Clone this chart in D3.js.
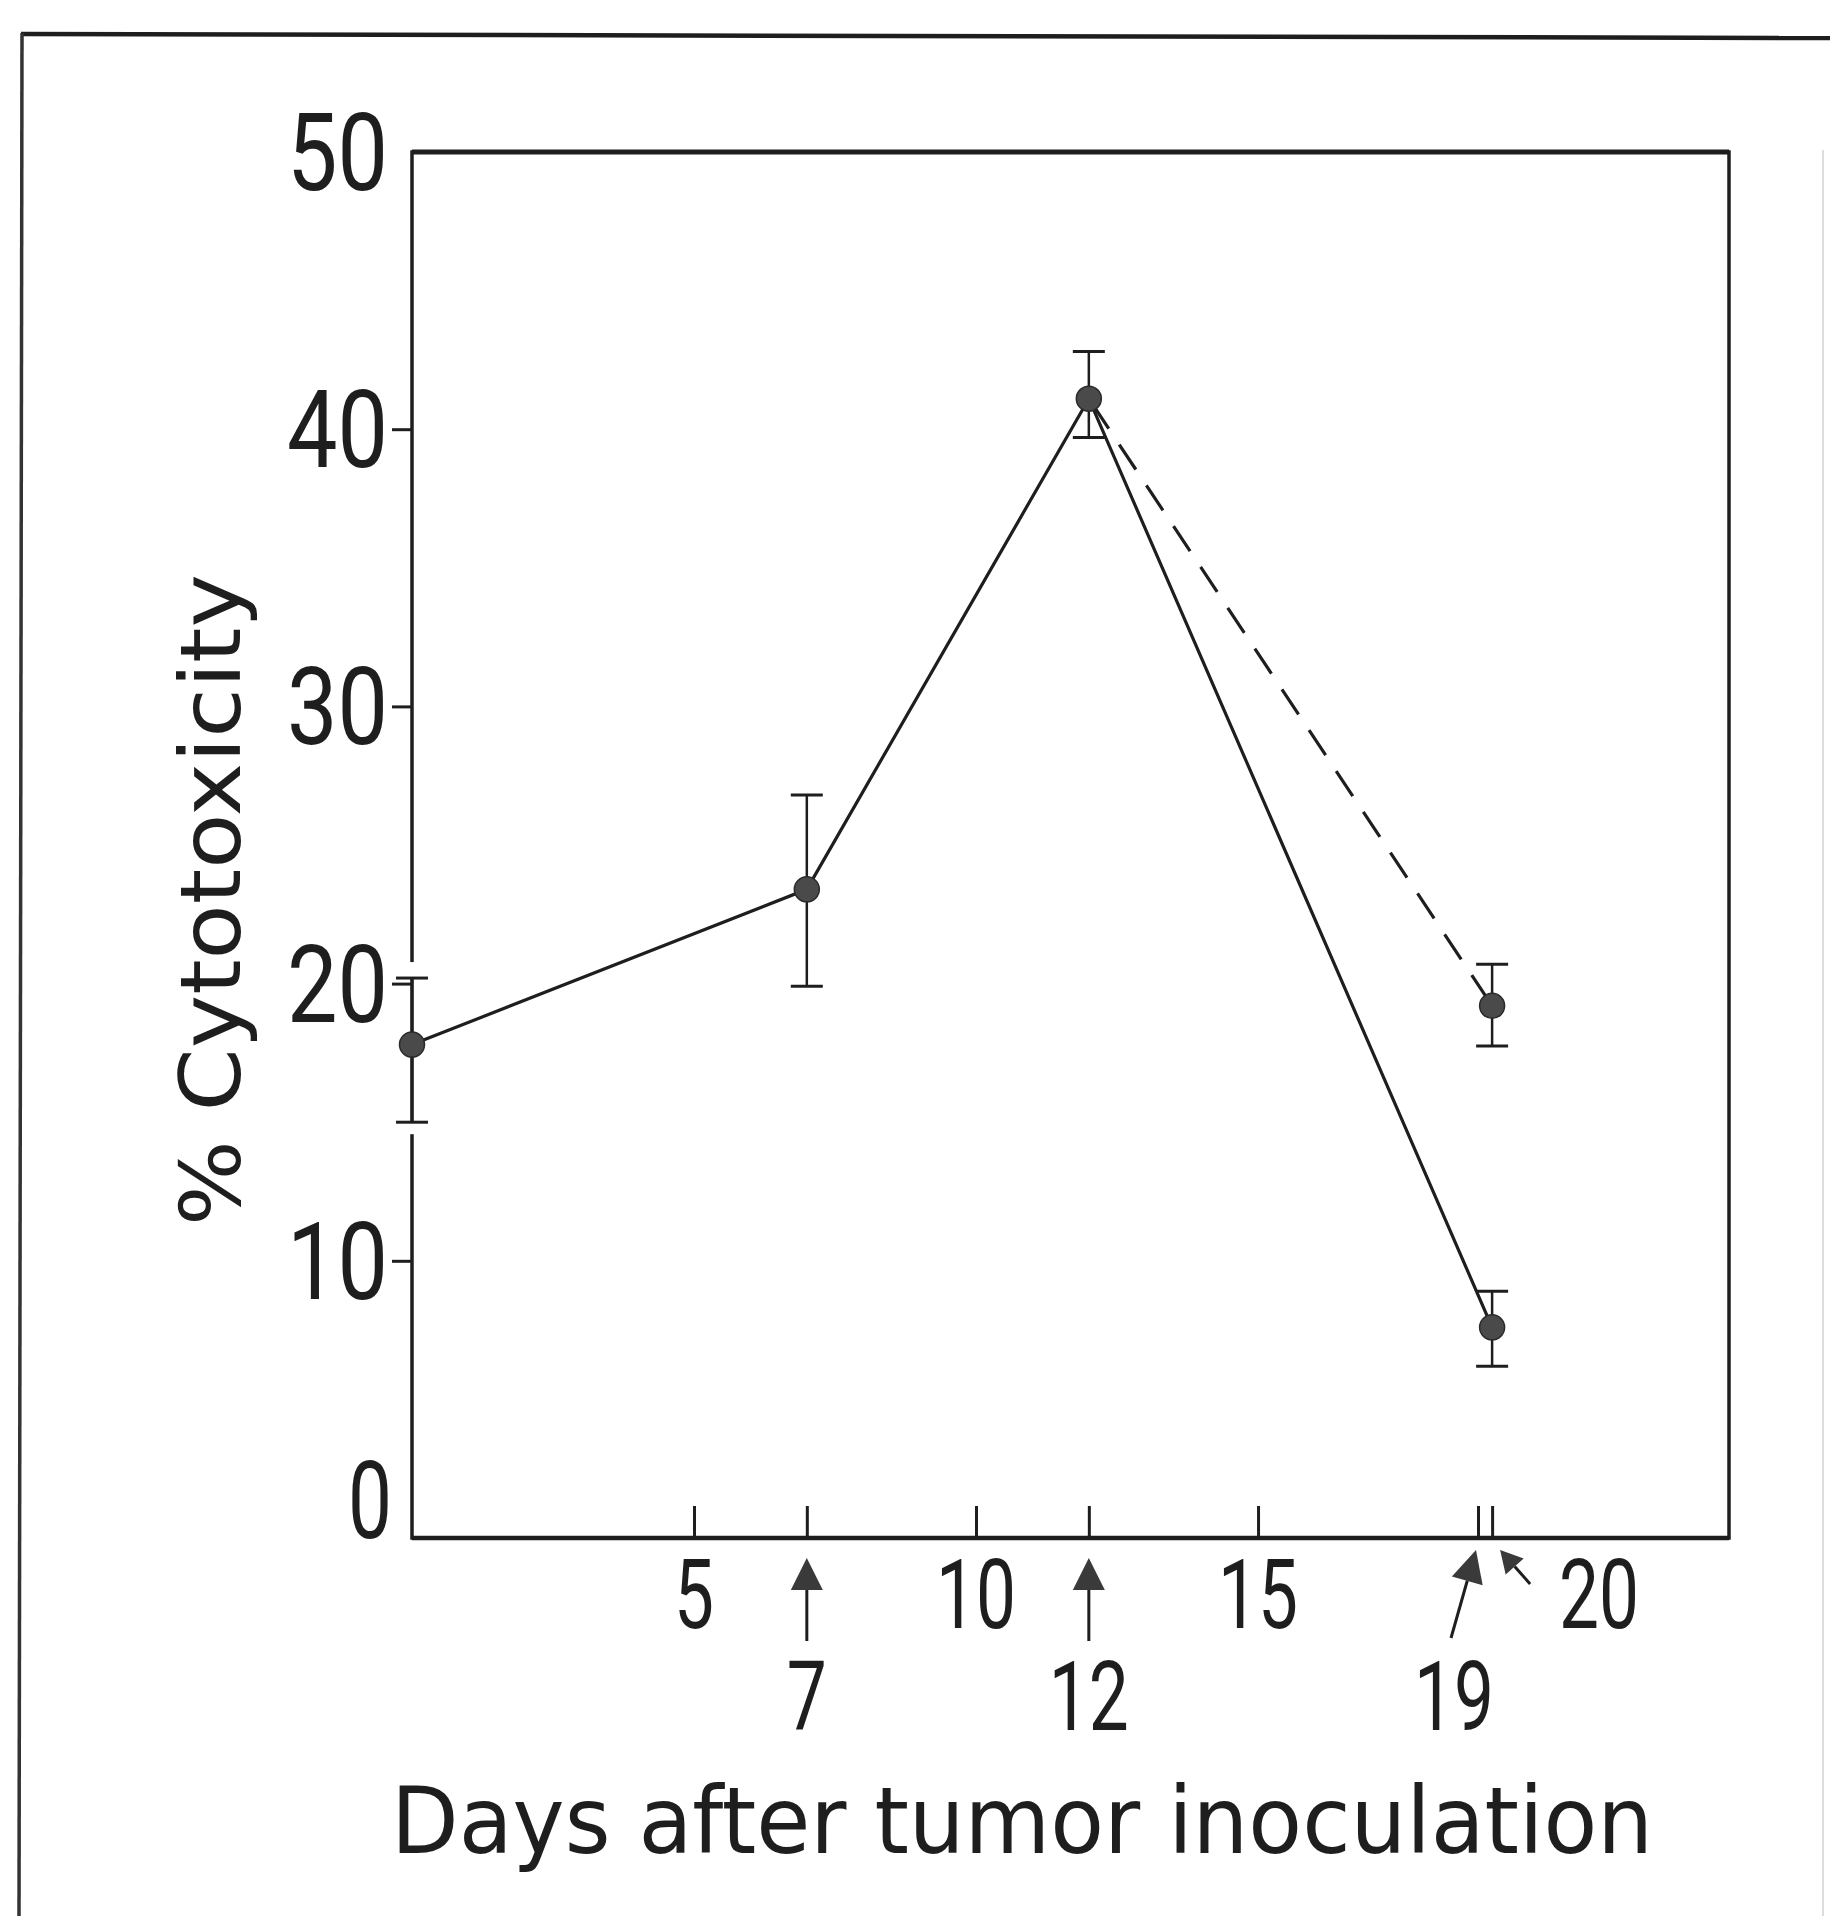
<!DOCTYPE html>
<html>
<head>
<meta charset="utf-8">
<script src="https://cdn.jsdelivr.net/npm/d3@7"></script>
<style>
  html, body { margin: 0; padding: 0; background: #ffffff; }
  svg { display: block; }
  text { font-family: "DejaVu Sans", "Liberation Sans", sans-serif; fill: #1e1e1e; }
  text.num { font-family: Roboto, "DejaVu Sans", sans-serif; }
</style>
</head>
<body>
<svg id="chart" width="1830" height="1916"></svg>
<script>
// ---------------- data ----------------
const days        = [0, 7, 12, 19.15];          // solid series (day positions on axis)
const solidValues = [17.8, 23.4, 41.1, 7.6];    // % cytotoxicity
const solidErrHi  = [20.2, 26.8, 42.8, 8.9];
const solidErrLo  = [15.0, 19.9, 39.7, 6.2];

const dashedDays   = [12, 19.15];               // dashed branch
const dashedValues = [41.1, 19.2];
const dashedErrHi  = [null, 20.7];
const dashedErrLo  = [null, 17.75];

const yTicks      = [0, 10, 20, 30, 40, 50];
const yTickLabels = ["0", "10", "20", "30", "40", "50"];

const xTickPos    = [5, 7, 10, 12, 15, 18.9, 19.15];
const xTickLabels = ["5", "7", "10", "12", "15", "19", "20"];
const xTickRow    = [1, 2, 1, 2, 1, 2, 1];      // label row (2 = with arrow)

const xTitle = "Days after tumor inoculation";
const yTitle = "% Cytotoxicity";

// ---------------- layout ----------------
const svg = d3.select("#chart");
const x = d3.scaleLinear().domain([0, 23.35]).range([412, 1729]);
const y = d3.scaleLinear().domain([0, 50]).range([1538, 152]);
const ink = "#1e1e1e";

// outer page frame (top + left edges)
svg.append("line").attr("x1", 21).attr("y1", 34).attr("x2", 1830).attr("y2", 38)
  .attr("stroke", ink).attr("stroke-width", 4.5);
svg.append("line").attr("x1", 22).attr("y1", 33).attr("x2", 19).attr("y2", 1916)
  .attr("stroke", "#333").attr("stroke-width", 3.5);
svg.append("line").attr("x1", 1823).attr("y1", 150).attr("x2", 1823).attr("y2", 1916)
  .attr("stroke", "#ddd").attr("stroke-width", 2);

// plot frame
const [x0, x1] = x.range();
const [yb, yt] = y.range();
svg.append("rect").attr("x", x0).attr("y", yt).attr("width", x1 - x0).attr("height", yb - yt)
  .attr("fill", "none").attr("stroke", ink).attr("stroke-width", 3.5);
svg.append("line").attr("x1", x0).attr("x2", x1).attr("y1", yt).attr("y2", yt)
  .attr("stroke", ink).attr("stroke-width", 5);
svg.append("line").attr("x1", x0).attr("x2", x1).attr("y1", yb).attr("y2", yb)
  .attr("stroke", ink).attr("stroke-width", 4.5);

// y axis ticks (outward)
const yAxis = d3.axisLeft(y).tickValues(yTicks).tickSize(20).tickSizeOuter(0).tickFormat("");
const gy = svg.append("g").attr("transform", `translate(${x0},0)`).call(yAxis);
gy.select(".domain").remove();
gy.selectAll(".tick line").attr("stroke", ink).attr("stroke-width", 3)
  .attr("opacity", d => (d === 0 || d === 50) ? 0 : 1);

// y tick labels
svg.append("g").selectAll("text").data(yTicks).join("text")
  .attr("class", "num")
  .attr("x", (d) => d === 0 ? x0 - 20 : x0 - 24)
  .attr("y", d => d === 0 ? y(d) : y(d) + 38)
  .attr("text-anchor", "end")
  .attr("font-size", 108)
  .attr("textLength", (d, i) => yTickLabels[i].length === 1 ? 44 : 101)
  .attr("lengthAdjust", "spacingAndGlyphs")
  .text((d, i) => yTickLabels[i]);

// x axis ticks (inward)
const xAxis = d3.axisBottom(x).tickValues(xTickPos).tickSize(-32).tickSizeOuter(0).tickFormat("");
const gx = svg.append("g").attr("transform", `translate(0,${yb})`).call(xAxis);
gx.select(".domain").remove();
gx.selectAll(".tick line").attr("stroke", ink).attr("stroke-width", 3);

// x tick labels & arrows
const row1Base = 1628, row2Base = 1730;
const gl = svg.append("g");
xTickPos.forEach((d, i) => {
  const lab = xTickLabels[i];
  const tx = x(d);
  let lx = tx, base = xTickRow[i] === 1 ? row1Base : row2Base;
  if (lab === "20") lx = tx + 107;
  if (lab === "19") lx = tx - 24;
  gl.append("text").attr("class", "num").attr("x", lx).attr("y", base).attr("text-anchor", "middle")
    .attr("font-size", 96)
    .attr("textLength", lab.length * 40).attr("lengthAdjust", "spacingAndGlyphs")
    .text(lab);
  // arrows
  let tip = null, tail = null;
  if (xTickRow[i] === 2 && lab !== "19") { tip = [tx, 1558]; tail = [tx, 1641]; }
  if (lab === "19") { tip = [tx - 2, 1550]; tail = [tx - 27, 1638]; }
  if (lab === "20") { tip = [tx + 8, 1550]; tail = [tx + 38, 1584]; }
  if (tip) {
    const ang = Math.atan2(tip[1] - tail[1], tip[0] - tail[0]);
    const L = lab === "20" ? 22 : 32, W = lab === "20" ? 12 : 16;
    const bx = tip[0] - L * Math.cos(ang), by = tip[1] - L * Math.sin(ang);
    const px = -Math.sin(ang) * W, py = Math.cos(ang) * W;
    gl.append("line").attr("x1", tail[0]).attr("y1", tail[1]).attr("x2", bx).attr("y2", by)
      .attr("stroke", ink).attr("stroke-width", 3);
    gl.append("path")
      .attr("d", d3.line()([[tip[0], tip[1]], [bx + px, by + py], [bx - px, by - py]]) + "Z")
      .attr("fill", "#3a3a3a");
  }
});

// axis titles
svg.append("text").attr("x", 391).attr("y", 1853)
  .attr("font-size", 92)
  .attr("textLength", 1262).attr("lengthAdjust", "spacingAndGlyphs")
  .text(xTitle);
svg.append("text")
  .attr("transform", "translate(240,1226) rotate(-90)")
  .attr("font-size", 84)
  .attr("textLength", 652).attr("lengthAdjust", "spacingAndGlyphs")
  .text(yTitle);

// ---------------- series ----------------
const solidPts  = days.map((d, i) => ({ d, v: solidValues[i], hi: solidErrHi[i], lo: solidErrLo[i] }));
const dashedPts = dashedDays.map((d, i) => ({ d, v: dashedValues[i], hi: dashedErrHi[i], lo: dashedErrLo[i] }));
const line = d3.line().x(p => x(p.d)).y(p => y(p.v));

// error bars
const allErr = solidPts.concat(dashedPts.filter(p => p.hi !== null));
const ge = svg.append("g");
allErr.forEach(p => {
  const cxx = p.d === 0 ? x0 : x(p.d);
  if (p.d === 0) {
    // white gaps where the error bar meets the y axis
    ge.append("line").attr("x1", cxx).attr("x2", cxx).attr("y1", y(p.hi) - 16).attr("y2", y(p.hi))
      .attr("stroke", "#fff").attr("stroke-width", 6);
    ge.append("line").attr("x1", cxx).attr("x2", cxx).attr("y1", y(p.lo)).attr("y2", y(p.lo) + 12)
      .attr("stroke", "#fff").attr("stroke-width", 6);
  }
  ge.append("line").attr("x1", cxx).attr("x2", cxx).attr("y1", y(p.hi)).attr("y2", y(p.lo))
    .attr("stroke", ink).attr("stroke-width", 2.5);
  [p.hi, p.lo].forEach(v => {
    ge.append("line").attr("x1", cxx - 16).attr("x2", cxx + 16).attr("y1", y(v)).attr("y2", y(v))
      .attr("stroke", ink).attr("stroke-width", 3);
  });
});

svg.append("path").datum(solidPts).attr("d", line)
  .attr("fill", "none").attr("stroke", ink).attr("stroke-width", 3.2);
svg.append("path").datum(dashedPts).attr("d", line)
  .attr("fill", "none").attr("stroke", ink).attr("stroke-width", 3.2)
  .attr("stroke-dasharray", "30,19").attr("stroke-dashoffset", -6);

// points
svg.append("g").selectAll("circle").data(solidPts.concat(dashedPts.slice(1))).join("circle")
  .attr("cx", p => p.d === 0 ? x0 : x(p.d)).attr("cy", p => y(p.v)).attr("r", 12.5)
  .attr("fill", "#4a4a4a").attr("stroke", "#2a2a2a").attr("stroke-width", 1.5);
</script>
</body>
</html>
